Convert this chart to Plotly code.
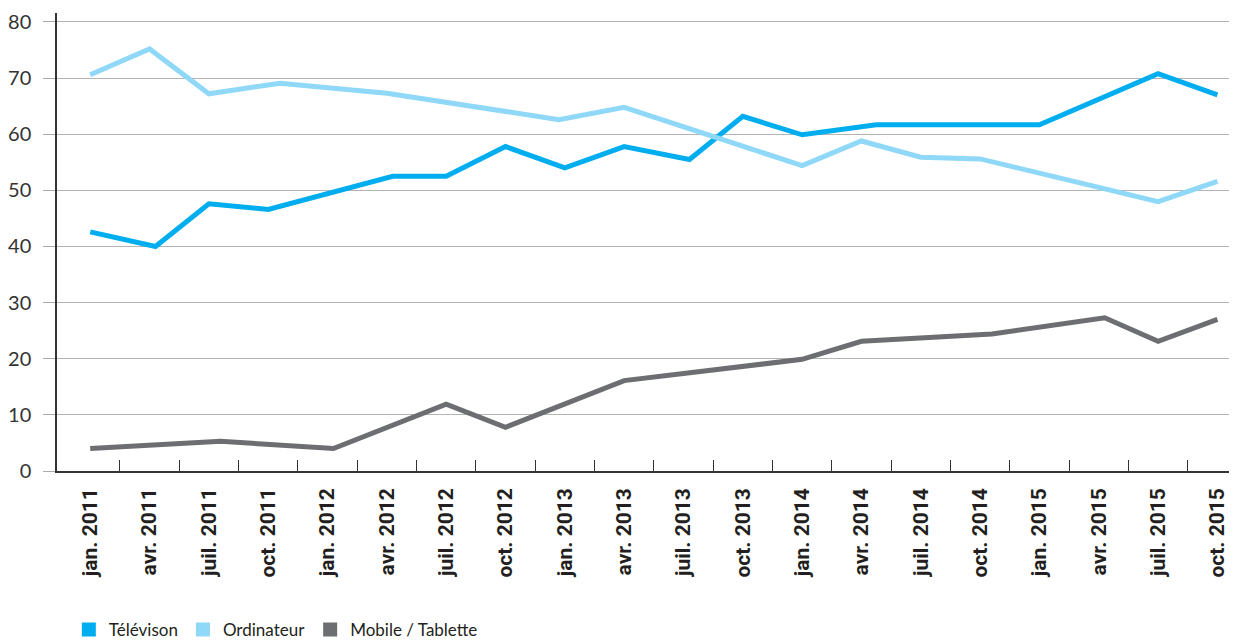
import plotly.graph_objects as go

# Category labels (quarters)
categories = ["jan. 2011", "avr. 2011", "juil. 2011", "oct. 2011",
              "jan. 2012", "avr. 2012", "juil. 2012", "oct. 2012",
              "jan. 2013", "avr. 2013", "juil. 2013", "oct. 2013",
              "jan. 2014", "avr. 2014", "juil. 2014", "oct. 2014",
              "jan. 2015", "avr. 2015", "juil. 2015", "oct. 2015"]

# Series: positions are in quarter units (0 = jan. 2011), values in %
tv_pos = [0, 1.1, 2, 3, 5.1, 6, 7, 8, 9, 10.1, 11, 12, 13.25, 16, 18, 19]
tv_val = [42.6, 40.0, 47.6, 46.6, 52.5, 52.5, 57.8, 54.0, 57.8, 55.5, 63.2, 59.9, 61.7, 61.7, 70.8, 67.0]

ord_pos = [0, 1, 2, 3.2, 5, 7.9, 9, 12, 13, 14, 15, 18, 19]
ord_val = [70.6, 75.2, 67.2, 69.1, 67.3, 62.6, 64.8, 54.4, 58.8, 55.9, 55.6, 48.0, 51.6]

mob_pos = [0, 2.2, 4.1, 6, 7, 9, 12, 13, 15.2, 17.1, 18, 19]
mob_val = [4.0, 5.3, 4.0, 11.9, 7.8, 16.1, 19.9, 23.1, 24.4, 27.3, 23.1, 27.0]

y_ticks = [0, 10, 20, 30, 40, 50, 60, 70, 80]

series = [
    ("Télévison", tv_pos, tv_val, "#00aeef"),
    ("Ordinateur", ord_pos, ord_val, "#8fd8f8"),
    ("Mobile / Tablette", mob_pos, mob_val, "#6d6e71"),
]

fig = go.Figure()
for name, xs, ys, col in series:
    fig.add_trace(go.Scatter(x=xs, y=ys, mode="lines", name=name,
                             line=dict(color=col, width=5), showlegend=False,
                             hoverinfo="skip"))
# legend entries with square swatches
for name, xs, ys, col in series:
    fig.add_trace(go.Scatter(x=[None], y=[None], mode="markers", name=name,
                             marker=dict(symbol="square", size=14, color=col),
                             showlegend=True))

fig.update_layout(
    width=1229, height=633,
    margin=dict(l=49, r=0, t=5, b=170, autoexpand=False),
    paper_bgcolor="white", plot_bgcolor="white",
    showlegend=True,
    legend=dict(orientation="h", xref="container", yref="paper",
                x=0.0495, y=-0.347, xanchor="left", yanchor="middle",
                font=dict(family="Lato, Open Sans, sans-serif", size=17, color="#231f20"),
                itemwidth=30, tracegroupgap=0, bgcolor="rgba(0,0,0,0)"),
    xaxis=dict(
        range=[-0.56, 19.33], tickmode="array", automargin=False,
        tickvals=list(range(len(categories))), ticktext=categories,
        tickangle=-90, ticks="", showgrid=False, zeroline=False,
        showline=True, linecolor="#333333", linewidth=1.5,
        tickfont=dict(family="Liberation Sans Narrow, Roboto, sans-serif", size=21,
                      color="#231f20", weight="bold"),
        ticklabelstandoff=7,
        minor=dict(tickmode="array", tickvals=[i + 0.5 for i in range(len(categories) - 1)],
                   ticks="inside", ticklen=11, tickwidth=1.3, tickcolor="#333333",
                   showgrid=False),
        fixedrange=True,
    ),
    yaxis=dict(
        range=[0, 81.6], tickmode="array", tickvals=y_ticks, automargin=False,
        ticks="outside", ticklen=12, tickcolor="#aaaaaa", tickwidth=1,
        showgrid=True, gridcolor="#b4b4b4", gridwidth=1, zeroline=False,
        showline=True, linecolor="#333333", linewidth=1.5,
        tickfont=dict(family="Lato, Open Sans, sans-serif", size=20, color="#333333"),
        ticklabelstandoff=8,
        fixedrange=True,
    ),
)

fig.write_html("out.html")
